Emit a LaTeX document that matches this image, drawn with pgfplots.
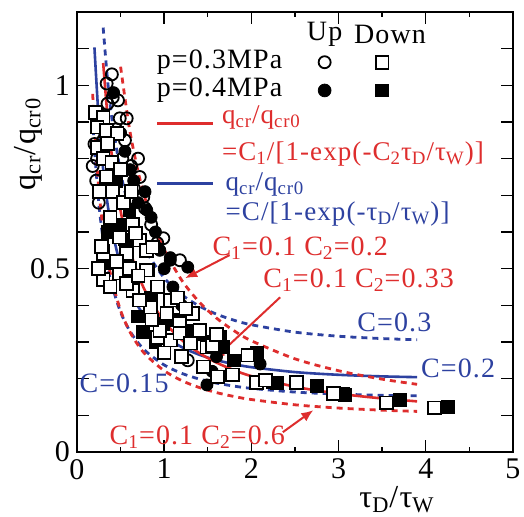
\documentclass[border=0pt]{standalone}
\usepackage{fontspec}
\setmainfont{Liberation Serif}[LetterSpace=4]
\usepackage{pgfplots}
\pgfplotsset{compat=1.18}
\usetikzlibrary{arrows.meta}
\definecolor{cred}{RGB}{222,45,45}
\definecolor{cblue}{RGB}{45,65,160}
\begin{document}
\begin{tikzpicture}
\begin{axis}[name=ax,
  scale only axis, width=218pt, height=220pt,
  xmin=0, xmax=5, ymin=0, ymax=1.2,
  axis line style={line width=0.8pt},
  tick style={line width=0.7pt, black},
  tick align=inside, major tick length=6pt, minor tick length=2.5pt,
  xtick={0,1,2,3,4,5}, minor xtick={0.5,1.5,2.5,3.5,4.5},
  ytick={0,0.1,0.2,0.3,0.4,0.5,0.6,0.7,0.8,0.9,1.0,1.1,1.2},
  yticklabels={0,,,,,0.5,,,,,1,,},
  xticklabels={0,1,2,3,4,5},
  /pgf/number format/assume math mode=true,
  ticklabel style={font=\fontsize{15}{18}\selectfont},
  clip=false,
]
% fit curves
\addplot[cblue, line width=1.3pt, smooth] coordinates {(0.2,1.1033)(0.25,0.9042)(0.3,0.7717)(0.35,0.6773)(0.4,0.6066)(0.5,0.5083)(0.6,0.4433)(0.7,0.3973)(0.8,0.3632)(1.0,0.3164)(1.2,0.2862)(1.4,0.2655)(1.6,0.2506)(1.8,0.2396)(2.0,0.2313)(2.5,0.2179)(3.0,0.2105)(3.5,0.2062)(3.9,0.2041)};
\addplot[cblue, line width=1.4pt, dash pattern=on 3pt off 2.5pt, smooth] coordinates {(0.3,1.1575)(0.35,1.0159)(0.4,0.9100)(0.5,0.7624)(0.6,0.6649)(0.7,0.5959)(0.8,0.5448)(1.0,0.4746)(1.2,0.4293)(1.4,0.3982)(1.6,0.3759)(1.8,0.3594)(2.0,0.3470)(2.5,0.3268)(3.0,0.3157)(3.5,0.3093)(3.9,0.3062)};
\addplot[cblue, line width=1.4pt, dash pattern=on 3pt off 2.5pt, smooth] coordinates {(0.18,0.9106)(0.2,0.8275)(0.25,0.6781)(0.3,0.5787)(0.35,0.5079)(0.4,0.4550)(0.5,0.3812)(0.6,0.3325)(0.7,0.2980)(0.8,0.2724)(1.0,0.2373)(1.2,0.2146)(1.4,0.1991)(1.6,0.1879)(1.8,0.1797)(2.0,0.1735)(2.5,0.1634)(3.0,0.1579)(3.5,0.1547)(3.9,0.1531)};
\addplot[cred, line width=1.3pt, smooth] coordinates {(0.3,1.0609)(0.35,0.9168)(0.4,0.8087)(0.5,0.6574)(0.6,0.5567)(0.7,0.4848)(0.8,0.4310)(1.0,0.3558)(1.2,0.3058)(1.4,0.2703)(1.6,0.2438)(1.8,0.2233)(2.0,0.2070)(2.5,0.1780)(3.0,0.1591)(3.5,0.1460)(3.9,0.1381)};
\addplot[cred, line width=1.4pt, dash pattern=on 3pt off 2.5pt, smooth] coordinates {(0.5,1.0508)(0.6,0.8843)(0.7,0.7655)(0.8,0.6763)(0.9,0.6071)(1.0,0.5517)(1.2,0.4687)(1.4,0.4095)(1.6,0.3652)(1.8,0.3308)(2.0,0.3033)(2.5,0.2541)(3.0,0.2216)(3.5,0.1986)(3.9,0.1846)};
\addplot[cred, line width=1.4pt, dash pattern=on 3pt off 2.5pt, smooth] coordinates {(0.18,0.9768)(0.2,0.8843)(0.25,0.7179)(0.3,0.6071)(0.35,0.5279)(0.4,0.4687)(0.5,0.3858)(0.6,0.3308)(0.7,0.2916)(0.8,0.2623)(1.0,0.2216)(1.2,0.1948)(1.4,0.1760)(1.6,0.1620)(1.8,0.1514)(2.0,0.1431)(2.5,0.1287)(3.0,0.1198)(3.5,0.1140)(3.9,0.1107)};
% p=0.4 Up (filled circles)
\addplot[only marks, mark=*, mark size=3pt, black] coordinates {(0.61,0.77)(0.78,0.71)(0.80,0.66)(1.07,0.523)(1.07,0.53)(1.27,0.504)(1.49,0.183)(0.55,0.82)(0.65,0.74)(0.7,0.68)(0.85,0.64)(0.9,0.6)(0.95,0.55)(1.0,0.5)(0.5,0.87)(0.42,0.98)(1.1,0.45)(1.2,0.4)(1.4,0.32)(1.55,0.22)(1.6,0.26)(2.1,0.24)};
% p=0.3 Up (open circles)
\addplot[only marks, mark=o, mark size=3pt, line width=0.9pt, black, mark options={fill=white}] coordinates {(0.40,1.03)(0.34,1.005)(0.41,0.967)(0.47,0.959)(0.26,0.92)(0.49,0.91)(0.57,0.91)(0.23,0.80)(0.18,0.78)(0.70,0.80)(0.72,0.75)(0.76,0.695)(0.99,0.583)(1.18,0.523)(0.78,0.665)(1.27,0.25)(0.3,0.85)(0.22,0.74)(0.25,0.68)(0.35,0.95)(0.45,0.88)(0.55,0.85)(0.62,0.78)(0.65,0.72)(0.3,0.88)(0.2,0.84)(0.52,0.8)(0.85,0.62)(0.92,0.57)};
% p=0.4 Down (filled squares)
\addplot[only marks, mark=square*, mark size=3.2pt, black] coordinates {(0.34,0.515)(0.76,0.327)(0.99,0.35)(1.64,0.313)(1.67,0.286)(2.06,0.27)(2.24,0.19)(2.29,0.188)(2.75,0.18)(3.07,0.155)(3.05,0.16)(3.7,0.142)(4.25,0.123)(0.3,0.55)(0.5,0.62)(0.6,0.66)(0.85,0.42)(1.1,0.36)(1.3,0.33)(0.7,0.37)(0.9,0.30)(1.8,0.25)(0.45,0.74)(0.55,0.58)(1.5,0.3)(0.35,0.6)};
% p=0.3 Down (open squares)
\addplot[only marks, mark=square*, mark size=3.2pt, line width=0.9pt, draw=black, fill=white] coordinates {(0.21,0.926)(0.30,0.913)(0.23,0.886)(0.34,0.877)(0.46,0.869)(0.23,0.83)(0.30,0.80)(0.34,0.75)(0.26,0.71)(0.41,0.71)(0.53,0.68)(0.38,0.64)(0.64,0.62)(0.49,0.586)(0.72,0.578)(0.30,0.542)(0.57,0.542)(0.80,0.55)(0.67,0.597)(0.87,0.559)(0.81,0.496)(0.30,0.47)(0.49,0.488)(0.80,0.496)(0.92,0.45)(1.07,0.414)(0.64,0.44)(0.84,0.395)(1.03,0.379)(1.18,0.35)(0.92,0.313)(1.07,0.305)(0.38,0.45)(0.57,0.46)(0.72,0.414)(1.33,0.378)(0.95,0.332)(1.18,0.324)(1.41,0.332)(1.49,0.286)(1.30,0.297)(1.45,0.232)(1.61,0.205)(1.78,0.21)(1.96,0.264)(2.06,0.19)(2.16,0.196)(2.52,0.19)(2.94,0.16)(3.55,0.134)(4.1,0.12)(0.28,0.56)(0.25,0.5)(0.45,0.52)(0.6,0.5)(0.7,0.48)(1.15,0.42)(1.25,0.39)(1.55,0.29)(1.6,0.32)(0.86,0.36)(1.0,0.27)(1.2,0.26)(0.40,0.79)(0.5,0.77)(0.35,0.84)(0.62,0.71)};
% legend markers
\addplot[only marks, mark=o, mark size=3pt, line width=0.9pt, black] coordinates {(2.84,1.063)};
\addplot[only marks, mark=square, mark size=3.2pt, line width=0.9pt, black] coordinates {(3.50,1.063)};
\addplot[only marks, mark=*, mark size=3.2pt, black] coordinates {(2.84,0.986)};
\addplot[only marks, mark=square*, mark size=3.2pt, black] coordinates {(3.50,0.986)};
% legend text
\node[font=\fontsize{14}{16}\selectfont] at (axis cs:2.84,1.14) {Up};
\node[font=\fontsize{14}{16}\selectfont] at (axis cs:3.59,1.14) {Down};
\node[anchor=east, font=\fontsize{14}{16}\selectfont, inner sep=0pt] at (axis cs:2.36,1.063) {p=0.3MPa};
\node[anchor=east, font=\fontsize{14}{16}\selectfont, inner sep=0pt] at (axis cs:2.36,0.986) {p=0.4MPa};
\draw[cred, line width=1.5pt] (axis cs:0.92,0.896) -- (axis cs:1.56,0.896);
\node[anchor=west, cred, font=\fontsize{13.5}{16}\selectfont, inner sep=0pt] at (axis cs:1.66,0.912) {q\textsubscript{cr}/q\textsubscript{cr0}};
\node[anchor=west, cred, font=\fontsize{13.5}{16}\selectfont, inner sep=0pt] at (axis cs:1.66,0.814) {=C\textsubscript{1}/[1-exp(-C\textsubscript{2}τ\textsubscript{D}/τ\textsubscript{W})]};
\draw[cblue, line width=1.5pt] (axis cs:0.92,0.733) -- (axis cs:1.56,0.733);
\node[anchor=west, cblue, font=\fontsize{13.5}{16}\selectfont, inner sep=0pt] at (axis cs:1.70,0.730) {q\textsubscript{cr}/q\textsubscript{cr0}};
\node[anchor=west, cblue, font=\fontsize{13.5}{16}\selectfont, inner sep=0pt] at (axis cs:1.70,0.650) {=C/[1-exp(-τ\textsubscript{D}/τ\textsubscript{W})]};
% annotations
\node[cred, font=\fontsize{14}{16}\selectfont, inner sep=0pt] at (axis cs:2.56,0.556) {C\textsubscript{1}=0.1 C\textsubscript{2}=0.2};
\draw[cred, line width=1pt, -{Latex[length=6pt,width=5pt]}] (axis cs:1.75,0.537) -- (axis cs:1.24,0.474);
\node[cred, font=\fontsize{14}{16}\selectfont, inner sep=0pt] at (axis cs:3.23,0.469) {C\textsubscript{1}=0.1 C\textsubscript{2}=0.33};
\draw[cred, line width=1pt, -{Latex[length=6pt,width=5pt]}] (axis cs:2.33,0.422) -- (axis cs:1.56,0.251);
\node[cred, font=\fontsize{14}{16}\selectfont, inner sep=0pt] at (axis cs:1.38,0.041) {C\textsubscript{1}=0.1 C\textsubscript{2}=0.6};
\draw[cred, line width=1pt, -{Latex[length=6pt,width=5pt]}] (axis cs:2.36,0.054) -- (axis cs:2.71,0.114);
\node[cblue, font=\fontsize{14}{16}\selectfont, inner sep=0pt] at (axis cs:3.64,0.354) {C=0.3};
\node[cblue, font=\fontsize{14}{16}\selectfont, inner sep=0pt] at (axis cs:4.37,0.229) {C=0.2};
\node[cblue, font=\fontsize{14}{16}\selectfont, inner sep=0pt] at (axis cs:0.54,0.188) {C=0.15};
% axis labels
\node[rotate=90, font=\fontsize{16}{18}\selectfont, inner sep=0pt] at (axis cs:-0.56,0.84) {q\textsubscript{cr}/q\textsubscript{cr0}};
\node[font=\fontsize{16}{18}\selectfont, inner sep=0pt] at (axis cs:3.67,-0.130) {τ\textsubscript{D}/τ\textsubscript{W}};
\end{axis}
\pgfresetboundingbox
\path[use as bounding box] ([shift={(-38.5pt,-32.5pt)}]ax.south west) rectangle ([shift={(5.5pt,6pt)}]ax.north east);
\end{tikzpicture}
\end{document}
